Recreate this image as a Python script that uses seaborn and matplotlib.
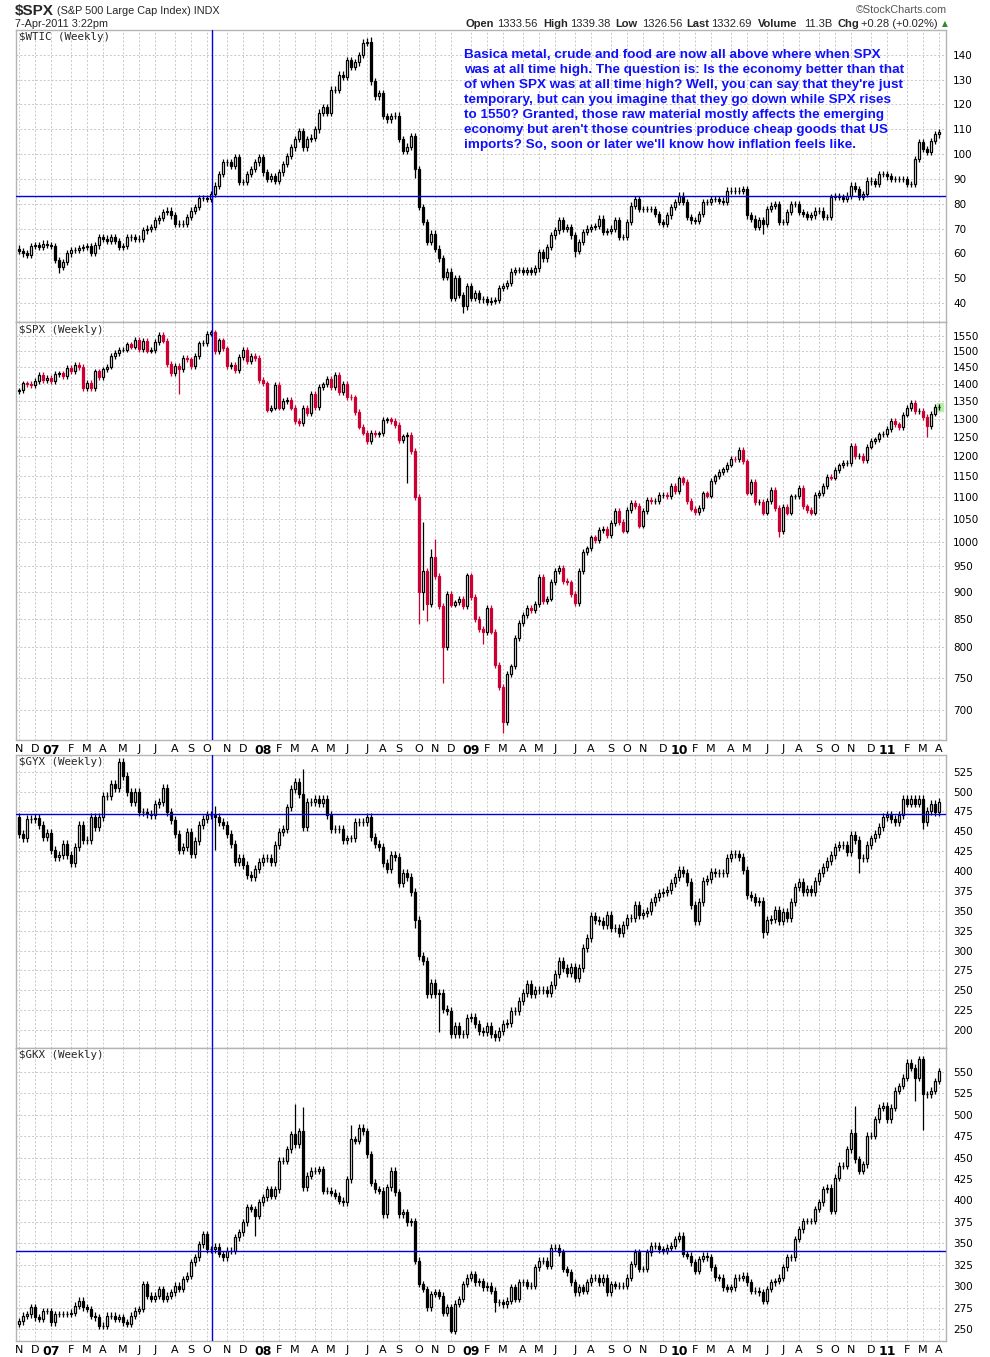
import numpy as np
import pandas as pd
import matplotlib
matplotlib.use("Agg")
import matplotlib.pyplot as plt
import seaborn as sns
from matplotlib.ticker import FixedLocator, FixedFormatter, NullLocator

# weekly candles, Nov 2006 -> Apr 2011
weeks = pd.date_range("2006-11-06", periods=231, freq="7D")

wtic_close = [
    61, 60, 59.5, 63, 63.5, 62.8, 64, 63.5, 63, 57.3,
    54.7, 56.5, 60, 61.3, 61.5, 62.2, 62.5, 63, 60.3, 63.3,
    66.7, 66, 65, 66.7, 65, 62.7, 63, 66.7, 66.5, 66,
    66, 69.3, 70, 70.7, 73.3, 74.3, 76.7, 77.3, 75.3, 72,
    72, 72, 74.7, 77.3, 78.7, 82.3, 82.3, 82, 84, 87.3,
    92, 96.7, 96.7, 95.3, 98.7, 88.7, 88.7, 92, 94, 96.7,
    98.7, 92.7, 90, 91.3, 89.3, 92.7, 96, 99.3, 102.7, 106,
    109.3, 102.7, 106, 106.7, 110, 116.7, 119, 116.7, 126, 126,
    132, 131, 138, 135.3, 137, 140, 144.7, 145.3, 129.3, 123.3,
    124.7, 115.3, 114, 115.3, 115.5, 106, 101.3, 103, 107.3, 94,
    78.7, 72.7, 64.7, 68, 62, 58, 50.7, 52.7, 42, 50,
    43.3, 38.7, 46.7, 42, 44, 41.5, 41.5, 40.5, 41, 41.3,
    46, 47, 48, 52.7, 53.3, 53.3, 52.7, 53.3, 52.7, 54,
    60.7, 58, 62.7, 67.3, 69.3, 73.3, 70, 70.7, 67.3, 61,
    64.7, 68.7, 70, 70.7, 71, 74, 68.7, 69, 70, 73.3,
    66.7, 66.7, 72.7, 79.3, 82, 78, 78, 78, 78, 76,
    72.7, 72, 75.3, 78.7, 80.7, 83.3, 80.7, 74.7, 73.3, 73,
    76, 80.7, 80.7, 82, 82, 81.3, 80.7, 85.3, 85.3, 85.3,
    85.3, 86, 75.3, 74, 70.7, 73.3, 72, 78, 79.3, 80,
    72.7, 72.7, 76.7, 80, 80, 76.7, 76, 74.7, 75.3, 77.3,
    77.3, 74.7, 74.7, 82.7, 83, 82.7, 82, 83.3, 87.3, 86,
    82.7, 84, 89.3, 89, 88, 92, 92, 91, 90, 90,
    90, 90, 88, 88, 98, 104.7, 102, 101, 105.3, 108,
    109,
]

spx_close = [
    1380, 1401, 1400, 1397, 1409, 1427, 1410, 1418,
    1409, 1430, 1431, 1422, 1449, 1438, 1456, 1451, 1387, 1402,
    1386, 1437, 1421, 1443, 1452, 1484, 1494, 1505, 1505, 1522,
    1515, 1536, 1507, 1533, 1502, 1503, 1530, 1553, 1534, 1459,
    1433, 1453, 1445, 1479, 1474, 1454, 1484, 1525, 1527, 1557,
    1561, 1500, 1535, 1509, 1453, 1458, 1440, 1481, 1504, 1468,
    1484, 1478,
    1411, 1401, 1325, 1331, 1396, 1331, 1349, 1353, 1331, 1294,
    1288, 1330, 1316, 1370, 1333, 1390, 1398, 1414, 1389, 1426,
    1376, 1400, 1361, 1360, 1318, 1278, 1262, 1240, 1261, 1257,
    1260, 1297, 1298, 1293, 1283, 1242, 1252, 1255, 1213, 1100,
    899, 940, 877, 968, 931, 873, 800, 896, 876, 880,
    887, 873,
    932, 890, 850, 832, 826, 869, 827, 770, 735, 683,
    756, 768, 816, 842, 857, 870, 866, 877, 929, 882,
    887, 919, 940, 946, 921, 918, 896, 879, 940, 979,
    987, 1010, 1005, 1026, 1029, 1016, 1042, 1068, 1044, 1025,
    1071, 1087, 1080, 1036, 1069, 1093, 1091, 1091, 1106, 1106,
    1102, 1127, 1115,
    1145, 1136, 1092, 1074, 1066, 1075, 1109, 1104, 1139, 1150,
    1160, 1167, 1179, 1194, 1192, 1217, 1187, 1111, 1136, 1088,
    1089, 1065, 1092, 1117, 1076, 1023, 1078, 1065, 1102, 1102,
    1122, 1079, 1071, 1065, 1105, 1110, 1126, 1149, 1147, 1166,
    1177, 1183, 1183, 1226, 1200, 1200, 1190, 1225, 1240, 1244,
    1257, 1258,
    1272, 1293, 1284, 1276, 1311, 1330, 1343, 1320, 1321, 1304,
    1279, 1314, 1332, 1333,
]

gyx_close = [
    447, 441, 466, 466, 467, 457.5, 443, 448, 426, 418,
    420, 434.6, 420, 410, 430, 457.5, 439, 439, 468, 455,
    468, 495, 495, 509.6, 505, 537, 520, 499, 487, 499,
    474, 474, 472, 470, 484.6, 487, 505, 474, 464, 447,
    426, 430, 449, 422, 438, 457.5, 466, 470, 470, 468,
    462, 457.5, 447, 434.6, 411.7, 416, 407.5, 395, 393, 403,
    411.7, 416, 416, 411.7, 432.5, 449, 453, 480, 503, 511.7,
    497, 455, 486.7, 486.7, 490.8, 486, 491, 470, 453, 453,
    453, 438.8, 441, 441, 461.7, 461.7, 461.7, 468, 443, 434.6,
    430, 409.6, 403, 420, 418, 384.6, 397, 393, 374, 338.7,
    293, 286.7, 245, 259.6, 245, 247, 226, 224, 195, 205,
    195, 195, 215.8, 217, 207.5, 199, 197, 205, 195, 191,
    199, 207.5, 209, 224, 224, 236.7, 247, 257.5, 245, 251,
    250, 251, 247, 257, 270, 286.7, 278, 272, 280, 266,
    278, 303, 315.8, 343, 339, 337.5, 332.5, 345, 328, 328,
    322, 332.5, 340.8, 340.8, 357.5, 345, 347, 350, 361.7, 368,
    372, 374, 376, 384.6, 393, 401, 397, 386.7, 357.5, 336.7,
    361.7, 388, 390, 399, 397, 397, 397, 417, 422, 422,
    418, 401, 370, 368, 361.7, 363, 324, 339, 340, 351,
    337, 349, 341, 361.7, 380, 386.7, 374, 378, 374, 388,
    397, 405, 413, 420, 430, 432.5, 432.5, 424, 445, 439,
    416, 416, 432.5, 441, 447, 455, 468, 470, 466, 462,
    470, 491, 485, 491, 485, 491, 462, 476, 485, 474,
    487,
]

gkx_close = [
    259, 265.6, 267, 275.3, 263.6, 262, 271, 271, 257.8, 267.5,
    267.5, 267.5, 267.5, 269, 277, 283, 275.3, 273.4, 265.6, 263.6,
    254, 254, 265.6, 265.6, 261.7, 263.6, 257.8, 256, 265.6, 271.4,
    273.4, 302.5, 288.9, 285, 289, 296.7, 285, 289, 292.8, 300.5,
    296.7, 308.3, 312.2, 327.7, 333.6, 349.1, 360.8, 343.3, 343.3, 346,
    337.5, 333.6, 341.4, 341.4, 356.9, 362.7, 374.4, 391.9, 390, 382.2,
    397.7, 403.5, 413.2, 405.5, 413, 446.3, 446.3, 459.8, 477.4, 465.7,
    481, 415.2, 428.8, 434.6, 434.6, 436.6, 411.3, 411.3, 409, 405.5,
    399.6, 397.7, 425, 471.5, 469.6, 485, 481, 454, 421, 413.2,
    411.3, 384, 415.2, 434.6, 409.4, 384, 386, 374.4, 376, 329.7,
    302.5, 296.7, 275.3, 290.8, 292.8, 289, 269, 275.3, 248, 279.3,
    285, 302.5, 310, 314, 304.4, 306, 298.6, 300.5, 294.7, 281,
    281, 279, 283, 298.6, 285, 304.4, 304.4, 300.5, 300.5, 322,
    329.7, 329.7, 324, 345, 345, 339.4, 320, 316, 304.4, 292.8,
    298.6, 294.7, 304.4, 310, 310, 304.4, 310, 292.8, 302.5, 300.5,
    300.5, 300.5, 310, 325.8, 339.4, 320, 320, 339.4, 347, 347,
    343.3, 341.4, 345, 347, 355, 358.9, 337.5, 335.6, 327.8, 318,
    331.7, 335.6, 333.6, 322, 310.3, 310, 298.6, 296.7, 298.6, 310,
    310, 312, 304.4, 294.7, 294.7, 292.8, 283, 296.7, 304.4, 306,
    310, 322, 333.6, 333.6, 355, 366.6, 376, 376, 376, 390,
    397.7, 413.2, 415, 388, 426.8, 440.4, 440.4, 460, 479.3, 448.2,
    434.6, 442.4, 475.4, 475.4, 494.8, 508.4, 510.4, 494.8, 508.4, 527.9,
    533.7, 543.4, 560.9, 555, 543.4, 564.8, 524, 524, 527.9, 539.5,
    551,
]

first_open = {"wtic": 62, "spx": 1378, "gyx": 468, "gkx": 256}

# long shadows (week index -> price)
wtic_hi = {86: 146.5, 88: 147.3}
wtic_lo = {10: 52, 99: 90.5, 111: 36, 139: 58.5, 186: 68}
spx_hi = {101: 1044, 103: 985, 104: 1007}
spx_lo = {40: 1370, 97: 1133, 100: 840, 101: 866, 102: 845, 106: 741,
          116: 805, 121: 667, 190: 1011, 227: 1249}
gyx_hi = {49: 482, 71: 528}
gyx_lo = {49: 426, 99: 328, 105: 197, 186: 316, 210: 397, 226: 453}
gkx_hi = {69: 513, 71: 509, 83: 488, 209: 510}
gkx_lo = {59: 359, 108: 245, 119: 270, 224: 516, 226: 482}

wtic_ticks = list(range(40, 141, 10))
spx_ticks = list(range(700, 1551, 50))
gyx_ticks = list(range(200, 526, 25))
gkx_ticks = list(range(250, 551, 25))

note = ("Basica metal, crude and food are now all above where when SPX\n"
        "was at all time high. The question is: Is the economy better than that\n"
        "of when SPX was at all time high? Well, you can say that they're just\n"
        "temporary, but can you imagine that they go down while SPX rises\n"
        "to 1550? Granted, those raw material mostly affects the emerging\n"
        "economy but aren't those countries produce cheap goods that US\n"
        "imports? So, soon or later we'll know how inflation feels like.")

sns.set_theme(style="white")
plt.rcParams["font.family"] = ["DejaVu Sans"]

W, H = 990, 1357
fig = plt.figure(figsize=(W / 100, H / 100), dpi=100)


def box(top, bottom, left=16, right=946):
    return [left / W, 1 - bottom / H, (right - left) / W, (bottom - top) / H]


def ohlc(close, op, hi_fix, lo_fix, pad, rel=False):
    c = np.array(close, dtype=float)
    o = np.concatenate([[op], c[:-1]])
    top = np.maximum(o, c)
    bot = np.minimum(o, c)
    if rel:
        hi, lo = top * (1 + pad), bot * (1 - pad)
    else:
        hi, lo = top + pad, bot - pad
    for k, v in hi_fix.items():
        hi[k] = v
    for k, v in lo_fix.items():
        lo[k] = v
    return o, c, hi, lo


def candles(ax, o, c, hi, lo, down_col):
    x = np.arange(len(c))
    up = c >= o
    ax.vlines(x[up], lo[up], hi[up], color="black", lw=0.9, zorder=2)
    ax.vlines(x[~up], lo[~up], hi[~up], color=down_col, lw=0.9, zorder=2)
    base = np.minimum(o, c)
    h = np.abs(c - o)
    ax.bar(x[up], h[up], bottom=base[up], width=0.65, color="white",
           edgecolor="black", linewidth=0.9, zorder=3)
    ax.bar(x[~up], h[~up], bottom=base[~up], width=0.65, color=down_col,
           edgecolor=down_col, linewidth=0.9, zorder=3)


# month ticks at first week of each month
month_idx, month_lab = [], []
for i, d in enumerate(weeks):
    if i == 0 or d.month != weeks[i - 1].month:
        month_idx.append(i)
        month_lab.append(f"{d.year % 100:02d}" if d.month == 1 else "JFMAMJJASOND"[d.month - 1])

panels = [
    ("$WTIC (Weekly)", wtic_close, "wtic", wtic_hi, wtic_lo, 1.3, False, "black",
     (30, 322), (32.4, 150), wtic_ticks, False, False, 83.2),
    ("$SPX (Weekly)", spx_close, "spx", spx_hi, spx_lo, 0.006, True, "#CC0033",
     (322, 740), (657, 1596), spx_ticks, True, True, None),
    ("$GYX (Weekly)", gyx_close, "gyx", gyx_hi, gyx_lo, 5, False, "black",
     (755, 1048), (177.5, 546), gyx_ticks, False, False, 472),
    ("$GKX (Weekly)", gkx_close, "gkx", gkx_hi, gkx_lo, 4, False, "black",
     (1048, 1341), (236, 578), gkx_ticks, False, True, 341.5),
]

for name, close, key, hfix, lfix, pad, rel, dcol, (t, b), ylim, yt, logy, xlab, hline in panels:
    ax = fig.add_axes(box(t, b))
    o, c, hi, lo = ohlc(close, first_open[key], hfix, lfix, pad, rel)
    candles(ax, o, c, hi, lo, dcol)
    if logy:
        ax.set_yscale("log")
    ax.set_ylim(*ylim)
    ax.set_xlim(-0.75, 231.75)
    ax.yaxis.set_major_locator(FixedLocator(yt))
    ax.yaxis.set_major_formatter(FixedFormatter([str(v) for v in yt]))
    ax.yaxis.set_minor_locator(NullLocator())
    ax.yaxis.tick_right()
    ax.set_xticks(month_idx)
    ax.set_xticklabels(month_lab if xlab else [])
    ax.tick_params(axis="y", length=0, pad=5, labelsize=7.5, colors="black")
    ax.tick_params(axis="x", length=0, pad=3, labelsize=8, colors="black",
                   labelbottom=xlab)
    if xlab:
        for lab in ax.get_xticklabels():
            if lab.get_text().isdigit():
                lab.set_fontweight("bold")
                lab.set_fontsize(9)
    ax.grid(True, color="#c8c8c8", lw=0.7, ls=(0, (2, 2)), zorder=0)
    for s in ax.spines.values():
        s.set_color("#b4b4b4")
        s.set_linewidth(1)
    ax.axvline(48.25, color="#0000e0", lw=1, zorder=4)
    if hline is not None:
        ax.axhline(hline, color="#0000e0", lw=1, zorder=4)
    ax.text(0.003, 0.992, name, transform=ax.transAxes, ha="left", va="top",
            fontsize=7.8, family="DejaVu Sans Mono")
    if key == "wtic":
        ax.text(448 / 930, 1 - 19 / 292, note, transform=ax.transAxes,
                ha="left", va="top", fontsize=9.7, fontweight="bold",
                color="#1010ff", family="Liberation Sans", linespacing=1.33)
    if key == "spx":
        ax.add_patch(plt.Rectangle((229.4, 1322), 1.6, 22, color="#b8f0a8", zorder=1))


# header
def ftext(px, py, s, **kw):
    fig.text(px / W, 1 - py / H, s, va="center", family="Liberation Sans", **kw)


ftext(15, 11, "$SPX", fontsize=11, fontweight="bold")
ftext(57, 11, "(S&P 500 Large Cap Index) INDX", fontsize=7.8)
ftext(15, 24, "7-Apr-2011 3:22pm", fontsize=7.8)
ftext(947, 10, "\u00a9StockCharts.com", fontsize=7.8, color="#555555", ha="right")
pieces = [(466, "Open", True), (497, "1333.56", False), (543, "High", True),
          (570, "1339.38", False), (615, "Low", True), (642, "1326.56", False),
          (686, "Last", True), (711, "1332.69", False), (758, "Volume", True),
          (804, "11.3B", False), (838, "Chg", True), (861, "+0.28 (+0.02%)", False)]
for px, s, bold in pieces:
    ftext(px, 24, s, fontsize=8, fontweight="bold" if bold else "normal")
fig.text(945 / W, 1 - 24 / H, "\u25b2", va="center", ha="center",
         fontsize=5.5, color="#2e8b2e")

fig.savefig("out.png", dpi=100)
